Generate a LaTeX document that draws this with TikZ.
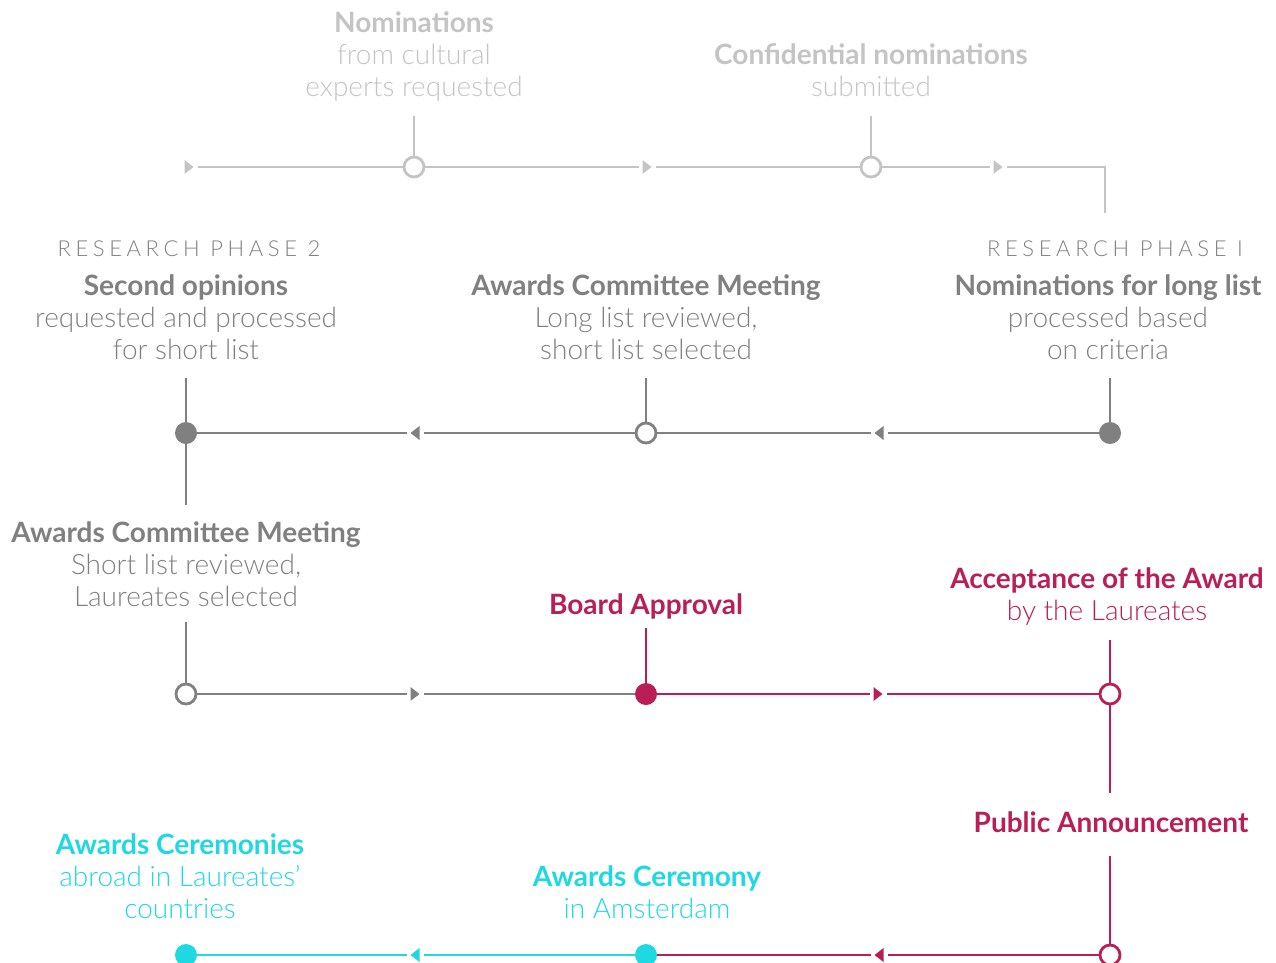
\documentclass[tikz,border=0pt]{standalone}
\usepackage{fontspec}
\setmainfont{Lato}[UprightFont={* Light},BoldFont={* Bold}]
\definecolor{lgray}{HTML}{C4C4C4}
\definecolor{dgray}{HTML}{808080}
\definecolor{crim}{HTML}{B91F56}
\definecolor{cyanc}{HTML}{1ED8E2}
\tikzset{
  lbl/.style={align=center,anchor=base,inner sep=0pt,font=\fontsize{28}{32}\selectfont},
  phase/.style={anchor=base,inner sep=0pt,text=dgray,font=\fontsize{22}{24}\selectfont\addfontfeatures{LetterSpace=21}},
  ln/.style={line width=2.8pt},
  opn/.style={circle,draw=#1,fill=white,line width=2.8pt,minimum size=20pt,inner sep=0pt},
  full/.style={circle,fill=#1,minimum size=22pt,inner sep=0pt,outer sep=0pt},
  tipbox/.style={rectangle,minimum width=17pt,minimum height=15pt,inner sep=0pt,outer sep=0pt},
}
\newcommand\mytipR[2]{\fill[#2] ([shift={(-4.5pt,7pt)}]#1.center) -- ([shift={(4.5pt,0pt)}]#1.center) -- ([shift={(-4.5pt,-7pt)}]#1.center) -- cycle;}
\newcommand\mytipL[2]{\fill[#2] ([shift={(4.5pt,7pt)}]#1.center) -- ([shift={(-4.5pt,0pt)}]#1.center) -- ([shift={(4.5pt,-7pt)}]#1.center) -- cycle;}
\begin{document}
\begin{tikzpicture}[x=1pt,y=-1pt]
\useasboundingbox (0,0) rectangle (1276,962);
% ---- row 1 (light gray)
\node[tipbox] (t11) at (189,167) {};
\node[opn=lgray] (c11) at (414,167) {};
\node[tipbox] (t12) at (647,167) {};
\node[opn=lgray] (c12) at (871,167) {};
\node[tipbox] (t13) at (998,167) {};
\coordinate (r1corner) at (1105,167);
\coordinate (r1end) at (1105,213);
\coordinate (s11) at (414,116);
\coordinate (s12) at (871,116);
\mytipR{t11}{lgray}\mytipR{t12}{lgray}\mytipR{t13}{lgray}
\begin{scope}[ln,lgray]
\draw (t11) -- (c11);
\draw (c11) -- (t12);
\draw (t12) -- (c12);
\draw (c12) -- (t13);
\draw (t13) -- (r1corner) -- (r1end);
\draw (s11) -- (c11);
\draw (s12) -- (c12);
\end{scope}
% ---- row 2 (dark gray)
\node[full=dgray] (c21) at (186,433) {};
\node[tipbox] (t21) at (415,433) {};
\node[opn=dgray] (c22) at (646,433) {};
\node[tipbox] (t22) at (879,433) {};
\node[full=dgray] (c23) at (1110,433) {};
\coordinate (s21a) at (186,378);
\coordinate (s21b) at (186,505);
\coordinate (s22) at (646,378);
\coordinate (s23) at (1110,378);
\mytipL{t21}{dgray}\mytipL{t22}{dgray}
\begin{scope}[ln,dgray]
\draw (c23) -- (t22);
\draw (t22) -- (c22);
\draw (c22) -- (t21);
\draw (t21) -- (c21);
\draw (s21a) -- (c21);
\draw (c21) -- (s21b);
\draw (s22) -- (c22);
\draw (s23) -- (c23);
\end{scope}
% ---- row 3
\node[opn=dgray] (c31) at (186,694) {};
\node[tipbox] (t31) at (415,694) {};
\node[full=crim] (c32) at (646,694) {};
\node[tipbox] (t32) at (878,694) {};
\node[opn=crim] (c33) at (1110,694) {};
\coordinate (s31) at (186,622);
\coordinate (s32) at (646,628);
\coordinate (s33a) at (1110,640);
\coordinate (s33b) at (1110,793);
\coordinate (s34) at (1110,856);
\mytipR{t31}{dgray}\mytipR{t32}{crim}
\begin{scope}[ln,dgray]
\draw (s31) -- (c31);
\draw (c31) -- (t31);
\draw (t31) -- (c32);
\end{scope}
\begin{scope}[ln,crim]
\draw (s32) -- (c32);
\draw (c32) -- (t32);
\draw (t32) -- (c33);
\draw (s33a) -- (c33);
\draw (c33) -- (s33b);
\end{scope}
% ---- row 4
\node[full=cyanc] (c41) at (186,955) {};
\node[tipbox] (t41) at (415,955) {};
\node[full=cyanc] (c42) at (646,955) {};
\node[tipbox] (t42) at (879,955) {};
\node[opn=crim] (c43) at (1110,955) {};
\mytipL{t41}{cyanc}\mytipL{t42}{crim}
\begin{scope}[ln,crim]
\draw (s34) -- (c43);
\draw (c43) -- (t42);
\draw (t42) -- (c42);
\end{scope}
\begin{scope}[ln,cyanc]
\draw (c42) -- (t41);
\draw (t41) -- (c41);
\end{scope}
% ---- labels
\node[lbl,text=lgray] (l1) at (414,96) {\textbf{Nominations}\\from cultural\\experts requested};
\node[lbl,text=lgray] (l2) at (871,96) {\textbf{Confidential nominations}\\submitted};
\node[phase] (p2) at (189,256) {RESEARCH PHASE 2};
\node[phase] (p1) at (1115,256) {RESEARCH PHASE I};
\node[lbl,text=dgray] (l3) at (186,359) {\textbf{Second opinions}\\requested and processed\\for short list};
\node[lbl,text=dgray] (l4) at (646,359) {\textbf{Awards Committee Meeting}\\Long list reviewed,\\short list selected};
\node[lbl,text=dgray] (l5) at (1108,359) {\textbf{Nominations for long list}\\processed based\\on criteria};
\node[lbl,text=dgray] (l6) at (186,606) {\textbf{Awards Committee Meeting}\\Short list reviewed,\\Laureates selected};
\node[lbl,text=crim] (l7) at (646,614) {\textbf{Board Approval}};
\node[lbl,text=crim] (l8) at (1107,620) {\textbf{Acceptance of the Award}\\by the Laureates};
\node[lbl,text=crim] (l9) at (1111,832) {\textbf{Public Announcement}};
\node[lbl,text=cyanc] (l10) at (180,918) {\textbf{Awards Ceremonies}\\abroad in Laureates’\\countries};
\node[lbl,text=cyanc] (l11) at (647,918) {\textbf{Awards Ceremony}\\in Amsterdam};
\end{tikzpicture}
\end{document}
